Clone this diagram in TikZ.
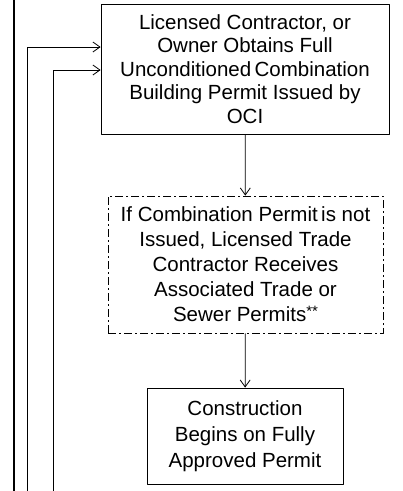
\documentclass[tikz,border=0pt]{standalone}
\usepackage{fontspec}
\setmainfont{Liberation Sans}
\usetikzlibrary{arrows.meta}
\begin{document}
\begin{tikzpicture}[x=1pt, y=-1pt, line join=round, line width=0.8pt, >={Straight Barb[length=7pt,width=10pt]},
	box/.style={draw, align=center, inner sep=0pt, font=\fontsize{20.5}{23.5}\selectfont},
	dashdot/.style={dash pattern=on 8pt off 3pt on 2pt off 3pt}]
	\useasboundingbox (0,0) rectangle (403,491);
	\path
	(14,0) coordinate (T)
	(14,491) coordinate (B)
	(27,491) coordinate (R1)
	(53,491) coordinate (R2)
	;
	\node[box, minimum width=288, minimum height=130] (permit) at (245,69)
	{Licensed Contractor, or\\Owner Obtains Full\\Unconditioned\,Combination\\Building Permit Issued by\\OCI};
	\node[box, dashdot, minimum width=275, minimum height=137, font=\fontsize{20.5}{25}\selectfont] (trade) at (245.5,264.5)
	{If Combination Permit\,is not\\Issued, Licensed Trade\\Contractor Receives\\Associated Trade  or\\Sewer Permits\raisebox{0.5ex}{\fontsize{15}{15}\selectfont**}};
	\node[box, minimum width=196, minimum height=96, font=\fontsize{20.5}{26}\selectfont] (build) at (245,436)
	{Construction\\Begins on Fully\\Approved Permit};
	\draw[line width=2pt] (T)--(B);
	\draw[->] (R1) |- ([yshift=22pt]permit.west);
	\draw[->] (R2) |- ([yshift=-1pt]permit.west);
	\draw[->] (permit)--(trade);
	\draw[->] (trade)--(build);
\end{tikzpicture}
\end{document}
